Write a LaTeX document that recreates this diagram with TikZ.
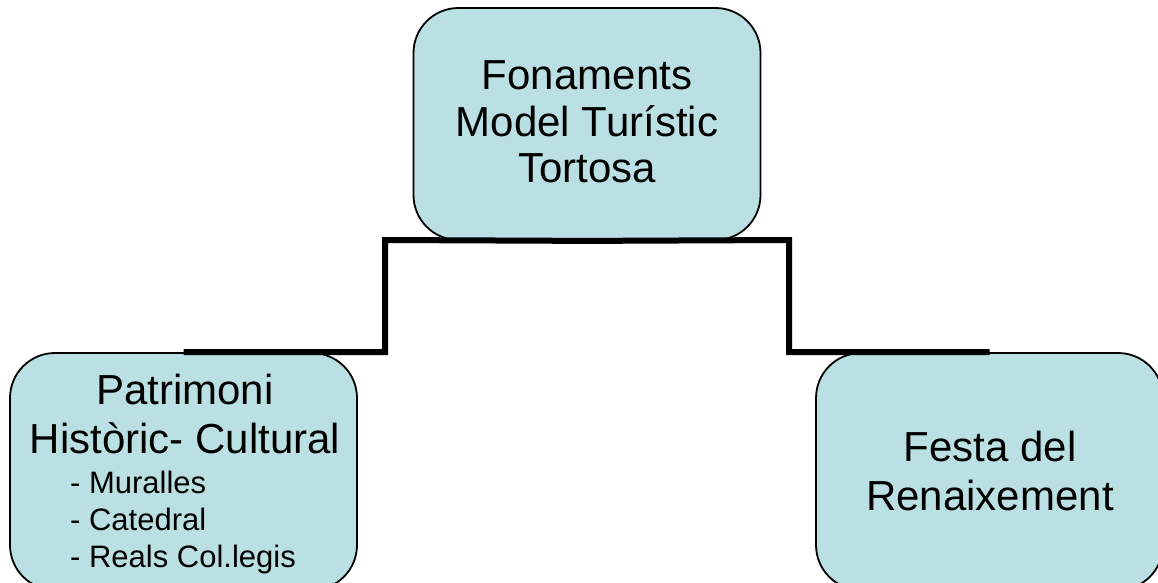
\documentclass[tikz,border=0pt]{standalone}
\usepackage{fontspec}
\setmainfont{Liberation Sans}
\definecolor{boxfill}{RGB}{187,224,227}
\begin{document}
\begin{tikzpicture}[x=1pt,y=-1pt,
  box/.style={draw=black, line width=1.8pt, fill=boxfill, rounded corners=45pt,
    inner sep=0pt, minimum width=347pt},
  conn/.style={draw=black, line width=6pt, line join=miter},
  bigtext/.style={inner sep=0pt, align=center, font=\fontsize{42}{49}\selectfont},
  toptext/.style={inner sep=0pt, align=center, font=\fontsize{42}{46.5}\selectfont},
  itemtext/.style={inner sep=0pt, align=left, font=\fontsize{31}{37}\selectfont}]
\clip (0,0) rectangle (1158,582);
\fill[white] (0,0) rectangle (1158,582);
% boxes
\node[box, minimum height=232pt] (top) at (587,124) {};
\node[box, minimum height=237pt] (left) at (183.5,471.5) {};
\node[box, minimum height=237pt] (right) at (989.5,471.5) {};
% texts
\node[toptext, anchor=north] (toplabel) at (587,60.6) {Fonaments\\Model Turístic\\Tortosa};
\node[bigtext, anchor=north] (lefttitle) at (185,373.9) {Patrimoni\\Històric- Cultural};
\node[itemtext, anchor=north west] (leftitems) at (70,470.8) {- Muralles\\- Catedral\\- Reals Col.legis};
\node[bigtext, anchor=north] (rightlabel) at (990,430.9) {Festa del\\Renaixement};
% connectors
\coordinate (lbend) at (385,240);
\coordinate (rbend) at (789,240);
\draw[conn] (top.south) -- (lbend) |- (left.north);
\draw[conn] (top.south) -- (rbend) |- (right.north);
\end{tikzpicture}
\end{document}
